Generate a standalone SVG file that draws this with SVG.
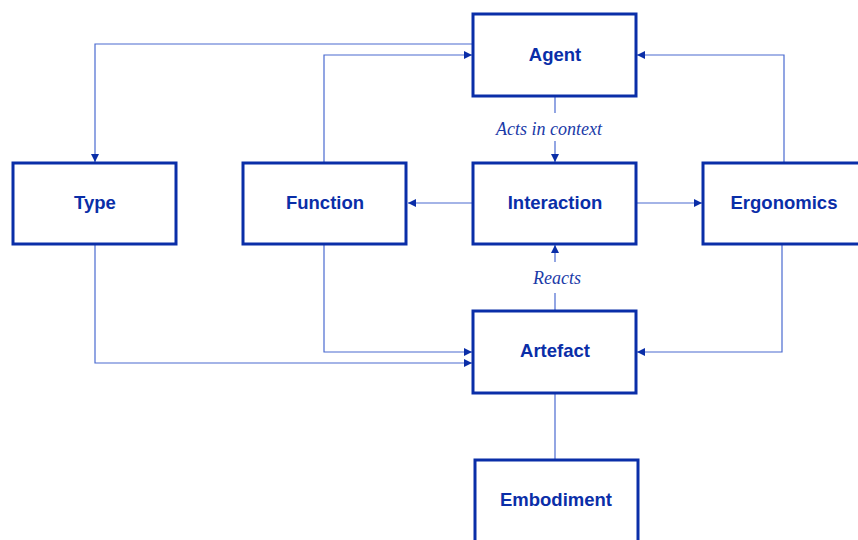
<svg xmlns="http://www.w3.org/2000/svg" width="858" height="540" viewBox="0 0 858 540">
<style>
.box{fill:#fff;stroke:#0a2ea8;stroke-width:3}
.lbl{font-family:"Liberation Sans",Arial,sans-serif;font-weight:bold;font-size:18.5px;fill:#0a2ea8;text-anchor:middle}
.el{font-family:"Liberation Serif","Times New Roman",serif;font-style:italic;font-size:18px;fill:#1a3aa8;text-anchor:middle}
.c{fill:none;stroke:#4a6ad0;stroke-width:1.2}
</style>
<defs>
<marker id="ah" viewBox="0 0 10 10" refX="10" refY="5" markerWidth="8" markerHeight="8" markerUnits="userSpaceOnUse" orient="auto">
<path d="M0,0 L10,5 L0,10 z" fill="#0a2ea8"/>
</marker>
</defs>
<rect width="858" height="540" fill="#fff"/>
<g id="connectors">
<path class="c" d="M473,44 H95 V162" marker-end="url(#ah)"/>
<path class="c" d="M324,163 V55 H472" marker-end="url(#ah)"/>
<path class="c" d="M784,163 V55 H637" marker-end="url(#ah)"/>
<path class="c" d="M555,96 V113"/>
<path class="c" d="M555,141 V162" marker-end="url(#ah)"/>
<path class="c" d="M473,203 H408" marker-end="url(#ah)"/>
<path class="c" d="M636,203 H702" marker-end="url(#ah)"/>
<path class="c" d="M555,311 V293"/>
<path class="c" d="M555,262 V245" marker-end="url(#ah)"/>
<path class="c" d="M324,244 V352 H472" marker-end="url(#ah)"/>
<path class="c" d="M95,244 V363 H472" marker-end="url(#ah)"/>
<path class="c" d="M782,244 V352 H637" marker-end="url(#ah)"/>
<path class="c" d="M555,393 V460"/>
<text class="el" x="549" y="135">Acts  in context</text>
<text class="el" x="557" y="284">Reacts</text>
</g>
<g id="agent"><rect class="box" x="473" y="14" width="163" height="82"/><text class="lbl" x="555" y="61">Agent</text></g>
<g id="type"><rect class="box" x="13" y="163" width="163" height="81"/><text class="lbl" x="95" y="209">Type</text></g>
<g id="function"><rect class="box" x="243" y="163" width="163" height="81"/><text class="lbl" x="325" y="209">Function</text></g>
<g id="interaction"><rect class="box" x="473" y="163" width="163" height="81"/><text class="lbl" x="555" y="209">Interaction</text></g>
<g id="ergonomics"><rect class="box" x="703" y="163" width="163" height="81"/><text class="lbl" x="784" y="209">Ergonomics</text></g>
<g id="artefact"><rect class="box" x="473" y="311" width="163" height="82"/><text class="lbl" x="555" y="357">Artefact</text></g>
<g id="embodiment"><rect class="box" x="475" y="460" width="163" height="90"/><text class="lbl" x="556" y="506">Embodiment</text></g>
</svg>
